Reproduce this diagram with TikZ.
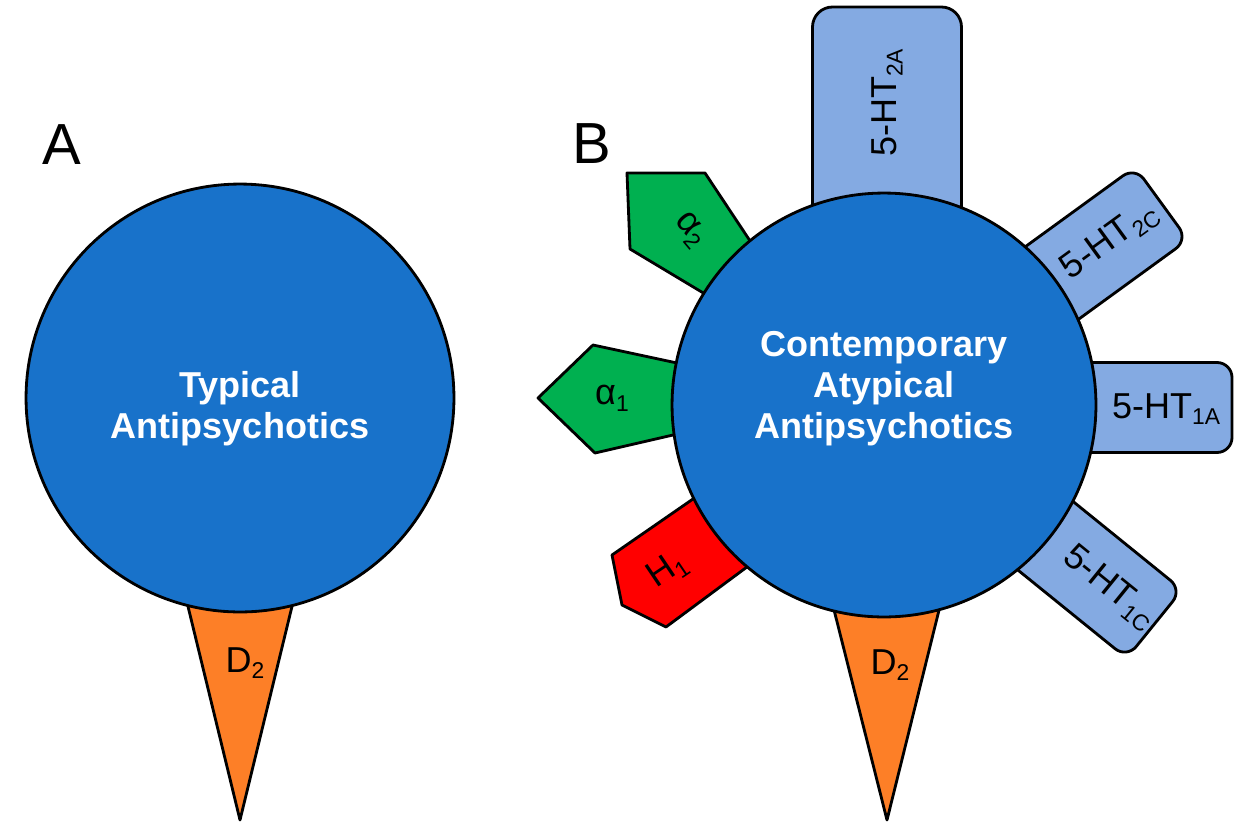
\documentclass[tikz,border=0pt]{standalone}
\usepackage{fontspec}
\setmainfont{Liberation Sans}
\usetikzlibrary{calc}
\definecolor{circblue}{RGB}{24,114,202}
\definecolor{tabblue}{RGB}{132,170,226}
\definecolor{grn}{RGB}{0,176,80}
\definecolor{rd}{RGB}{255,0,0}
\definecolor{org}{RGB}{253,127,39}
\newcommand\rsub[1]{\raisebox{-0.35ex}{\fontsize{13}{13}\selectfont #1}}
\begin{document}
\begin{tikzpicture}[x=0.02cm,y=-0.02cm,
  outl/.style={draw=black, line width=1.6pt, line join=round},
  tab/.style={outl, fill=tabblue},
  lbl/.style={font=\fontsize{20.5}{24}\selectfont, inner sep=0pt},
  big/.style={font=\fontsize{20.5}{23.3}\selectfont\bfseries, text=white, align=center, inner sep=0pt},
  panel/.style={font=\fontsize{33}{36}\selectfont, inner sep=0pt}]
\useasboundingbox (0,0) rectangle (1237,822);
\coordinate (cA) at (240,398);
\coordinate (cB) at (884,405);

% ---------- Panel A ----------
\node[panel] (pa) at (62,145) {A};
\draw[outl, fill=org] (184,590) -- (296,590) -- (240,820) -- cycle;
\node[lbl] (d2a) at (245,663) {D\rsub{2}};
\draw[outl, fill=circblue] (cA) circle[radius=4.28cm];
\node[big] (ta) at (240,409) {Typical\\Antipsychotics};

% ---------- Panel B ----------
\node[panel] (pb) at (592,144) {B};

% serotonin tabs
\begin{scope}[shift={(cB)}, rotate=90]
  \draw[tab, rounded corners=0.4cm] (120,-71.5) rectangle (398,77.5);
  \node[lbl, rotate=90] (t2a) at (302,3) {5-HT\rsub{2A}};
\end{scope}
\begin{scope}[shift={(cB)}, rotate=36]
  \draw[tab, rounded corners=0.3cm] (120,-45) rectangle (343,45);
  \node[lbl, rotate=36] (t2c) at (279,0) {5-HT\rsub{2C}};
\end{scope}
\begin{scope}[shift={(cB)}, rotate=0]
  \draw[tab, rounded corners=0.3cm] (120,-42.5) rectangle (348,47.5);
  \node[lbl] (t1a) at (282,4) {5-HT\rsub{1A}};
\end{scope}
\begin{scope}[shift={(cB)}, rotate=-39]
  \draw[tab, rounded corners=0.3cm] (120,-44) rectangle (348,44);
  \node[lbl, rotate=-39] (t1c) at (290,0) {5-HT\rsub{1C}};
\end{scope}

% adrenergic receptors
\draw[outl, fill=grn] (538,398) -- (593,345) -- (719,372) -- (712,426) -- (595,453) -- cycle;
\node[lbl] (a1) at (612,398) {α\rsub{1}};
\draw[outl, fill=grn] (627,173) -- (705,173) -- (772,274) -- (740,315) -- (630,249) -- cycle;
\node[lbl, rotate=-50] (a2) at (690,230) {α\rsub{2}};

% histamine receptor
\draw[outl, fill=rd] (612,555) -- (732,472) -- (782,541) -- (666,627) -- (622,605) -- cycle;
\node[lbl, rotate=34] (h1) at (667,570) {H\rsub{1}};

% dopamine receptor
\draw[outl, fill=org] (829,590) -- (944,590) -- (887,820) -- cycle;
\node[lbl] (d2b) at (890,665) {D\rsub{2}};

\draw[outl, fill=circblue] (cB) circle[radius=4.24cm];
\node[big] (tb) at (884,389) {Contemporary\\Atypical\\Antipsychotics};
\end{tikzpicture}
\end{document}
